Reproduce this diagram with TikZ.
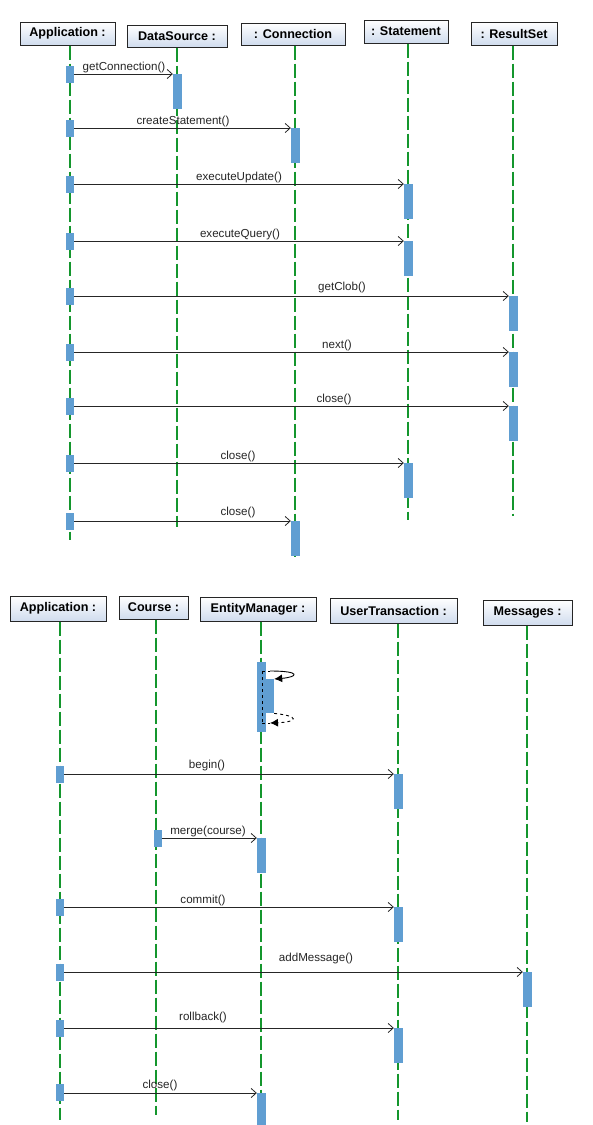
\documentclass[tikz,border=0pt]{standalone}
\usepackage{fontspec}
\setmainfont{Liberation Sans}
\usetikzlibrary{arrows.meta}
\definecolor{hdrblue}{RGB}{208,220,238}
\definecolor{lifegreen}{RGB}{20,150,45}
\definecolor{actblue}{RGB}{96,158,210}
\tikzset{
 hdr/.style={draw=black!85, line width=1pt, top color=white, bottom color=hdrblue, font=\bfseries\fontsize{12.6}{14}\selectfont, inner sep=0pt},
 life/.style={draw=lifegreen, line width=1.2pt, dash pattern=on 14pt off 4pt},
 act/.style={fill=actblue, draw=none, minimum width=9pt, inner sep=0pt},
 sact/.style={act, minimum width=8pt, minimum height=17pt},
 tact/.style={act, minimum height=35pt, anchor=north},
 msg/.style={draw=black!85, line width=0.8pt, -{Straight Barb[length=5pt,width=9pt]}},
 lbl/.style={font=\fontsize{11.6}{13}\selectfont, inner sep=0pt, anchor=base, text=black!85}
}
\begin{document}
\begin{tikzpicture}[x=1pt,y=-1pt]
\useasboundingbox[fill=white] (0,0) rectangle (592,1125);
% ===== top diagram =====
\node[hdr, minimum width=95pt, minimum height=23pt] (hA) at (67.5,33.5) {Application :};
\node[hdr, minimum width=100pt, minimum height=22pt] (hD) at (177,36) {DataSource :};
\node[hdr, minimum width=104pt, minimum height=22pt] (hC) at (293,34) {: Connection};
\node[hdr, minimum width=84pt, minimum height=23pt] (hS) at (406,31.5) {: Statement};
\node[hdr, minimum width=86pt, minimum height=23pt] (hR) at (514,33.5) {: ResultSet};
\coordinate (eA) at (70,540);
\coordinate (eD) at (177,527);
\coordinate (eC) at (295,557);
\coordinate (eS) at (408,520);
\coordinate (eR) at (513,516);
\draw[life] (hA.south -| eA) -- (eA);
\draw[life] (hD.south -| eD) -- (eD);
\draw[life] (hC.south -| eC) -- (eC);
\draw[life] (hS.south -| eS) -- (eS);
\draw[life] (hR.south -| eR) -- (eR);
% messages
\node[sact] (s1) at (70,74.5) {};
\node[tact] (t1) at (177.5,74) {};
\draw[msg] (s1.east |- t1.north) -- (t1.north west);
\node[lbl] (l1) at (124,70.5) {getConnection()};
\node[sact] (s2) at (70,128.5) {};
\node[tact] (t2) at (295.5,128) {};
\draw[msg] (s2.east |- t2.north) -- (t2.north west);
\node[lbl] (l2) at (183,124) {createStatement()};
\node[sact] (s3) at (70,184.5) {};
\node[tact] (t3) at (408.5,184) {};
\draw[msg] (s3.east |- t3.north) -- (t3.north west);
\node[lbl] (l3) at (239,180) {executeUpdate()};
\node[sact] (s4) at (70,241.5) {};
\node[tact] (t4) at (408.5,241) {};
\draw[msg] (s4.east |- t4.north) -- (t4.north west);
\node[lbl] (l4) at (240,237) {executeQuery()};
\node[sact] (s5) at (70,296.5) {};
\node[tact] (t5) at (513.5,296) {};
\draw[msg] (s5.east |- t5.north) -- (t5.north west);
\node[lbl] (l5) at (342,290) {getClob()};
\node[sact] (s6) at (70,352.5) {};
\node[tact] (t6) at (513.5,352) {};
\draw[msg] (s6.east |- t6.north) -- (t6.north west);
\node[lbl] (l6) at (337,348) {next()};
\node[sact] (s7) at (70,406.5) {};
\node[tact] (t7) at (513.5,406) {};
\draw[msg] (s7.east |- t7.north) -- (t7.north west);
\node[lbl] (l7) at (334,402) {close()};
\node[sact] (s8) at (70,463.5) {};
\node[tact] (t8) at (408.5,463) {};
\draw[msg] (s8.east |- t8.north) -- (t8.north west);
\node[lbl] (l8) at (238,459) {close()};
\node[sact] (s9) at (70,521.5) {};
\node[tact] (t9) at (295.5,521) {};
\draw[msg] (s9.east |- t9.north) -- (t9.north west);
\node[lbl] (l9) at (238,515) {close()};
% ===== bottom diagram =====
\node[hdr, minimum width=96pt, minimum height=25pt] (bA) at (58,608.5) {Application :};
\node[hdr, minimum width=69pt, minimum height=23pt] (bC) at (153.5,607.5) {Course :};
\node[hdr, minimum width=116pt, minimum height=24pt] (bE) at (258,609) {EntityManager :};
\node[hdr, minimum width=127pt, minimum height=25pt] (bU) at (393.5,610.5) {UserTransaction :};
\node[hdr, minimum width=89pt, minimum height=25pt] (bM) at (527.5,612.5) {Messages :};
\coordinate (fA) at (60,1120);
\coordinate (fC) at (156,1115);
\coordinate (fE) at (261,1125);
\coordinate (fU) at (398,1120);
\coordinate (fM) at (527,1122);
\draw[life] (bA.south -| fA) -- (fA);
\draw[life] (bC.south -| fC) -- (fC);
\draw[life] (bE.south -| fE) -- (fE);
\draw[life] (bU.south -| fU) -- (fU);
\draw[life] (bM.south -| fM) -- (fM);
% self call on EntityManager
\node[act, minimum height=70pt, anchor=north] (em0) at (261.5,662) {};
\node[act, minimum width=9pt, minimum height=34pt, anchor=north] (em1) at (269.5,679) {};
\coordinate (dTop) at (262,671);
\coordinate (dBot) at (262,723);
\coordinate (cTop) at (270,671);
\coordinate (cBot) at (270,723);
\draw[dashed, line width=0.9pt, black] (dTop) -- (dBot);
\draw[dashed, line width=0.9pt, black] (dTop) -- (cTop);
\draw[dashed, line width=0.9pt, black] (dBot) -- (cBot);
\draw[line width=0.9pt, black, -{Latex[length=8pt,width=8pt]}] (cTop) .. controls (302,671) and (298,677) .. (em1.north east);
\draw[dashed, line width=0.9pt, black, -{Latex[length=8pt,width=8pt]}] (em1.south east) .. controls (300,716) and (298,722) .. (cBot);
% messages
\node[sact] (u1) at (60,774.5) {};
\node[tact] (v1) at (398.5,774) {};
\draw[msg] (u1.east |- v1.north) -- (v1.north west);
\node[lbl] (m1) at (207,768) {begin()};
\node[sact] (u2) at (157.5,838) {};
\node[tact] (v2) at (261.5,838) {};
\draw[msg] (u2.east |- v2.north) -- (v2.north west);
\node[lbl] (m2) at (208,834) {merge(course)};
\node[sact] (u3) at (60,907.5) {};
\node[tact] (v3) at (398.5,907) {};
\draw[msg] (u3.east |- v3.north) -- (v3.north west);
\node[lbl] (m3) at (203,903) {commit()};
\node[sact] (u4) at (60,972.5) {};
\node[tact] (v4) at (527.5,972) {};
\draw[msg] (u4.east |- v4.north) -- (v4.north west);
\node[lbl] (m4) at (316,961) {addMessage()};
\node[sact] (u5) at (60,1028.5) {};
\node[tact] (v5) at (398.5,1028) {};
\draw[msg] (u5.east |- v5.north) -- (v5.north west);
\node[lbl] (m5) at (203,1020) {rollback()};
\node[sact] (u6) at (60,1092.5) {};
\node[tact] (v6) at (261.5,1093) {};
\draw[msg] (u6.east |- v6.north) -- (v6.north west);
\node[lbl] (m6) at (160,1088) {close()};
\end{tikzpicture}
\end{document}
